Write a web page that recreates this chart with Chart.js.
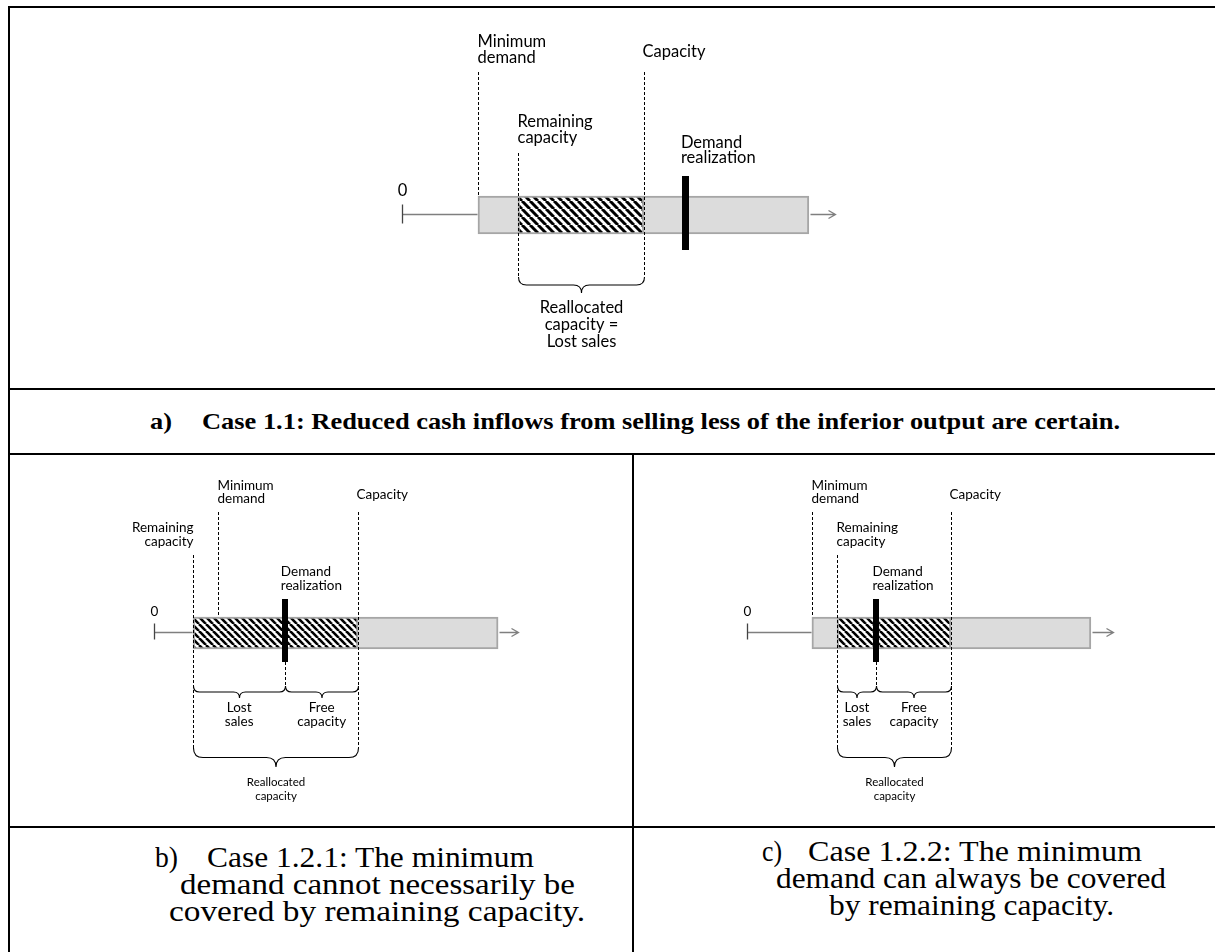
<!DOCTYPE html>
<html>
<head>
<meta charset="utf-8">
<script src="https://cdn.jsdelivr.net/npm/chart.js@4.4.1/dist/chart.umd.min.js"></script>
<style>
  html, body { margin: 0; padding: 0; background: #fff; }
  #page { position: relative; width: 1215px; height: 952px; overflow: hidden; background: #fff; }
  canvas { position: absolute; }
  .rule { position: absolute; background: #000; }
  .cap { position: absolute; white-space: nowrap; font-family: "Liberation Serif", "Times New Roman", Tinos, "Nimbus Roman", serif; color: #000; transform-origin: 0 50%; }
</style>
</head>
<body>
<div id="page">
  <canvas id="chartA" width="1202" height="379" style="left:10px;top:9px"></canvas>
  <canvas id="chartB" width="622" height="370" style="left:10px;top:456px"></canvas>
  <canvas id="chartC" width="577" height="370" style="left:635px;top:456px"></canvas>
</div>
<script>
// Values (axis units, 0 = origin tick, max demand ~ 10)
// index 0 = case 1.1 (top), 1 = case 1.2.1 (bottom left), 2 = case 1.2.2 (bottom right)
const minimumDemand = [1.86, 1.86, 1.88];
const remainingCapacity = [2.84, 1.14, 2.61];
const demandRealization = [6.95, 3.81, 3.75];
const capacity = [5.92, 5.94, 5.91];
const maximumDemand = [9.96, 10.02, 9.96];
const axisEnd = 10.6;

// Text
const labelMinDemand = ['Minimum', 'demand'];
const labelCapacity = ['Capacity'];
const labelRemaining = ['Remaining', 'capacity'];
const labelDemand = ['Demand', 'realization'];
const labelZero = ['0'];
const braceTopText = ['Reallocated', 'capacity =', 'Lost sales'];
const braceLostText = ['Lost', 'sales'];
const braceFreeText = ['Free', 'capacity'];
const braceReallocText = ['Reallocated', 'capacity'];

const captionA = ['a)', 'Case 1.1: Reduced cash inflows from selling less of the inferior output are certain.'];
const captionB = ['b)', 'Case 1.2.1: The minimum', 'demand cannot necessarily be', 'covered by remaining capacity.'];
const captionC = ['c)', 'Case 1.2.2: The minimum', 'demand can always be covered', 'by remaining capacity.'];

// Diagonal hatch for the reallocated capacity
function makeHatch(ctx, n, lw) {
    const c = document.createElement('canvas');
    c.width = n; c.height = n;
    const g = c.getContext('2d');
    g.fillStyle = '#fff';
    g.fillRect(0, 0, n, n);
    g.strokeStyle = '#000';
    g.lineWidth = lw;
    [-n, 0, n].forEach(x0 => {
        g.beginPath();
        g.moveTo(x0, 0);
        g.lineTo(x0 + n, n);
        g.stroke();
    });
    return ctx.createPattern(c, 'repeat');
}

// Curly brace opening upwards, tip at the bottom
function brace(ctx, x1, x2, yTop, h) {
    const xm = (x1 + x2) / 2, ym = yTop + h / 2;
    const r = Math.min(h / 2, (x2 - x1) / 4);
    ctx.beginPath();
    ctx.moveTo(x1, yTop);
    ctx.quadraticCurveTo(x1, ym, x1 + r, ym);
    ctx.lineTo(xm - r, ym);
    ctx.quadraticCurveTo(xm, ym, xm, yTop + h);
    ctx.quadraticCurveTo(xm, ym, xm + r, ym);
    ctx.lineTo(x2 - r, ym);
    ctx.quadraticCurveTo(x2, ym, x2, yTop);
    ctx.stroke();
}

function lines(ctx, text, x, ys, align) {
    ctx.textAlign = align;
    text.forEach((t, k) => ctx.fillText(t, x, ys[k]));
}

function vdash(ctx, x, y1, y2) {
    ctx.beginPath();
    ctx.moveTo(x, y1);
    ctx.lineTo(x, y2);
    ctx.stroke();
}

const diagramPlugin = {
    id: 'diagram',
    afterDatasetsDraw(chart, args, opts) {
        const i = opts.index, s = opts.style;
        const ctx = chart.ctx;
        const xs = chart.scales.x;
        const yc = chart.scales.y.getPixelForValue(0);
        const px = v => Math.round(xs.getPixelForValue(v)) + 0.5;
        const start = Math.min(remainingCapacity[i], minimumDemand[i]);
        const x0 = px(0), xMin = px(minimumDemand[i]), xRem = px(remainingCapacity[i]);
        const xCap = px(capacity[i]), xDem = xs.getPixelForValue(demandRealization[i]);
        const half = s.barH / 2;
        ctx.save();

        // axis with origin tick and arrow
        const ya = Math.round(yc + s.axisDy) + 0.5;
        ctx.strokeStyle = '#7f7f7f';
        ctx.lineWidth = 1.3;
        ctx.beginPath();
        ctx.moveTo(x0, ya); ctx.lineTo(px(start) - 1, ya);
        ctx.moveTo(px(maximumDemand[i]) + 1, ya); ctx.lineTo(px(axisEnd), ya);
        ctx.moveTo(px(axisEnd) - 7, ya - 4); ctx.lineTo(px(axisEnd), ya); ctx.lineTo(px(axisEnd) - 7, ya + 4);
        ctx.stroke();
        ctx.strokeStyle = '#444';
        ctx.beginPath();
        ctx.moveTo(x0, ya - s.tick[0]); ctx.lineTo(x0, ya + s.tick[1]);
        ctx.stroke();

        // dashed guides
        ctx.strokeStyle = '#000';
        ctx.lineWidth = 1;
        ctx.setLineDash([3, 2]);
        vdash(ctx, xMin, yc + s.guideTop, yc - half);
        vdash(ctx, xCap, yc + s.guideTop, yc + s.braceBig[0]);
        vdash(ctx, xRem, yc + s.remTop, yc + s.braceBig[0]);
        if (s.small) vdash(ctx, Math.round(xDem) + 0.5, yc + s.demand[1], yc + s.small[0]);
        ctx.setLineDash([]);

        // demand realization
        ctx.fillStyle = '#000';
        ctx.fillRect(Math.round(xDem - s.demW / 2), yc + s.demand[0], s.demW, s.demand[1] - s.demand[0]);

        // braces
        ctx.lineWidth = 1.1;
        ctx.strokeStyle = '#000';
        brace(ctx, xRem, xCap, yc + s.braceBig[0], s.braceBig[1]);
        if (s.small) {
            const xd = Math.round(xDem) + 0.5;
            brace(ctx, xRem, xd, yc + s.small[0], s.small[1]);
            brace(ctx, xd, xCap, yc + s.small[0], s.small[1]);
        }

        // labels
        ctx.fillStyle = '#000';
        ctx.textBaseline = 'middle';
        ctx.font = s.font + 'px Lato';
        const off = a => a.map(d => yc + d);
        lines(ctx, labelMinDemand, xMin - 1, off(s.yMin), 'left');
        lines(ctx, labelCapacity, xCap - 2, off(s.yCap), 'left');
        if (s.remRight) lines(ctx, labelRemaining, xRem, off(s.yRem), 'right');
        else lines(ctx, labelRemaining, xRem - 1, off(s.yRem), 'left');
        lines(ctx, labelDemand, xDem - s.demDx, off(s.yDem), 'left');
        lines(ctx, labelZero, x0, off(s.yZero), 'center');
        if (s.small) {
            lines(ctx, braceLostText, (xRem + xDem) / 2, off(s.ySmall), 'center');
            lines(ctx, braceFreeText, (xDem + xCap) / 2, off(s.ySmall), 'center');
            ctx.font = s.fontBig + 'px Lato';
            lines(ctx, braceReallocText, (xRem + xCap) / 2, off(s.yBig), 'center');
        } else {
            lines(ctx, braceTopText, (xRem + xCap) / 2, off(s.yBig), 'center');
        }
        ctx.restore();
    }
};

function makeChart(i, id, pad, style) {
    const ctx = document.getElementById(id).getContext('2d');
    const start = Math.min(remainingCapacity[i], minimumDemand[i]);
    return new Chart(ctx, {
        type: 'bar',
        data: {
            labels: [''],
            datasets: [{
                label: 'Reallocated capacity',
                data: [[remainingCapacity[i], capacity[i]]],
                backgroundColor: makeHatch(ctx, style.hatch[0], style.hatch[1]),
                borderColor: '#a6a6a6',
                borderWidth: 2,
                borderSkipped: false,
                barThickness: style.barH,
                grouped: false
            }, {
                label: 'Demand range',
                data: [[start, maximumDemand[i]]],
                backgroundColor: '#dcdcdc',
                borderColor: '#a6a6a6',
                borderWidth: 2,
                borderSkipped: false,
                barThickness: style.barH,
                grouped: false
            }]
        },
        options: {
            indexAxis: 'y',
            responsive: false,
            animation: false,
            events: [],
            layout: { padding: pad },
            scales: {
                x: { type: 'linear', min: 0, max: axisEnd, display: false },
                y: { display: false }
            },
            plugins: {
                legend: { display: false },
                tooltip: { enabled: false },
                diagram: { index: i, style: style }
            }
        },
        plugins: [diagramPlugin]
    });
}

const topStyle = {
    barH: 38, axisDy: -1, tick: [10, 9], font: 16.5, demW: 7, demDx: 5, hatch: [8, 3],
    guideTop: -143, remTop: -62, demand: [-39, 35], braceBig: [62, 16],
    yMin: [-173, -157], yCap: [-163], yRem: [-93, -77], yDem: [-72, -57], yZero: [-24],
    yBig: [93, 110, 127]
};
const bottomStyle = {
    barH: 32, axisDy: -1, tick: [9, 7], font: 13.5, fontBig: 11.5, demW: 6, demDx: 4, hatch: [7, 2.6],
    guideTop: -121, remTop: -78, demand: [-34, 29], braceBig: [115, 19], small: [53, 12],
    yMin: [-147, -134], yCap: [-138], yRem: [-105, -91], yDem: [-61, -47], yZero: [-21],
    ySmall: [75, 89], yBig: [149, 163]
};

makeChart(0, 'chartA', { left: 392, right: 377, top: 156, bottom: 123 }, topStyle);
makeChart(1, 'chartB', { left: 144, right: 114, top: 127, bottom: 143 }, Object.assign({ remRight: true }, bottomStyle));
makeChart(2, 'chartC', { left: 112, right: 99, top: 127, bottom: 143 }, bottomStyle);

// Table rules
const page = document.getElementById('page');
[[8, 6, 1207, 2], [8, 6, 2, 946], [8, 388, 1207, 2], [8, 453, 1207, 2], [8, 826, 1207, 2], [632, 454, 2, 498]]
    .forEach(r => {
        const d = document.createElement('div');
        d.className = 'rule';
        d.style.cssText = `left:${r[0]}px;top:${r[1]}px;width:${r[2]}px;height:${r[3]}px`;
        page.appendChild(d);
    });

// Captions, each fitted to the width it has in the picture
function caption(text, left, right, cy, size, bold) {
    const d = document.createElement('div');
    d.className = 'cap';
    d.textContent = text;
    d.style.fontSize = size + 'px';
    d.style.lineHeight = Math.round(size * 1.15) + 'px';
    if (bold) d.style.fontWeight = 'bold';
    page.appendChild(d);
    const w = d.getBoundingClientRect().width;
    const h = d.getBoundingClientRect().height;
    d.style.left = left + 'px';
    d.style.top = (cy - h / 2) + 'px';
    d.style.transform = `scaleX(${(right - left) / w})`;
}
caption(captionA[0], 150, 172, 422, 23, true);
caption(captionA[1], 202, 1120, 422, 23, true);
caption(captionB[0], 155, 178, 857, 29, false);
caption(captionB[1], 207, 534, 857, 29, false);
caption(captionB[2], 180, 575, 884, 29, false);
caption(captionB[3], 169, 585, 911, 29, false);
caption(captionC[0], 762, 782, 851, 29, false);
caption(captionC[1], 808, 1142, 851, 29, false);
caption(captionC[2], 776, 1166, 878, 29, false);
caption(captionC[3], 829, 1114, 905, 29, false);
</script>
</body>
</html>
